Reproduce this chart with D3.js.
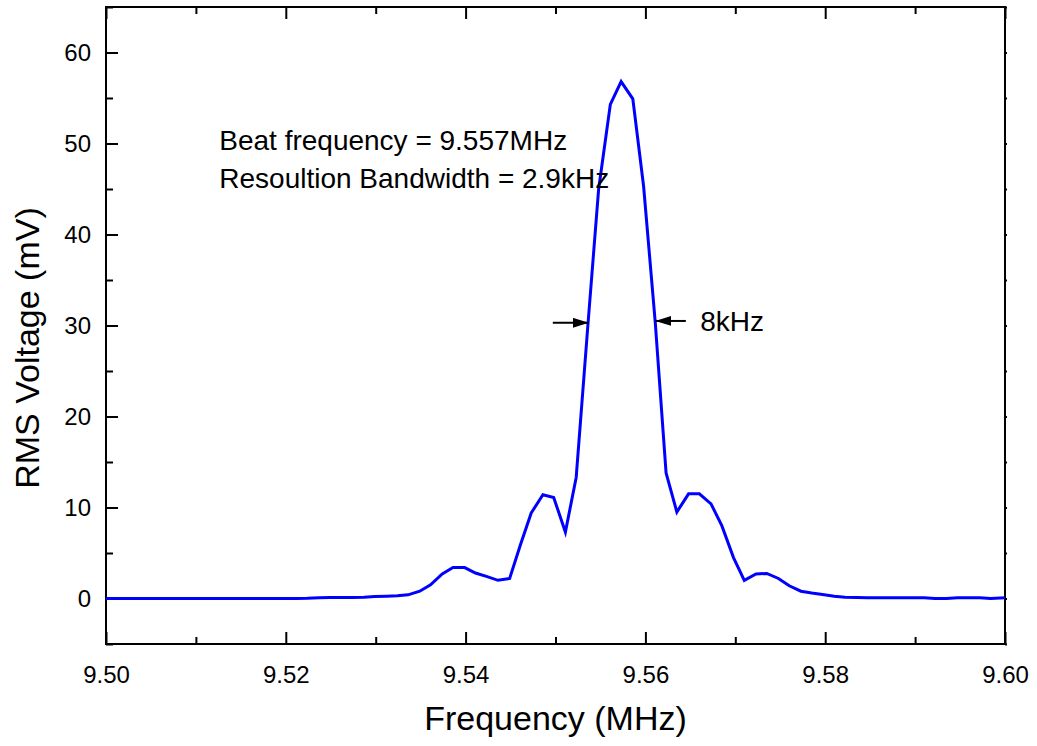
<!DOCTYPE html>
<html>
<head>
<meta charset="utf-8">
<script src="https://cdn.jsdelivr.net/npm/d3@7"></script>
<style>
  body { margin: 0; background: #fff; }
  svg { display: block; font-family: "Liberation Sans", Arial, sans-serif; }
</style>
</head>
<body>
<svg></svg>
<script>
// sample frequencies (MHz) and RMS voltage (mV)
const frequencies = [
  9.5000, 9.5012, 9.5025, 9.5037, 9.5050, 9.5062, 9.5075, 9.5087, 9.5100, 9.5112,
  9.5125, 9.5137, 9.5150, 9.5162, 9.5174, 9.5187, 9.5199, 9.5212, 9.5224, 9.5237,
  9.5249, 9.5262, 9.5274, 9.5287, 9.5299, 9.5312, 9.5324, 9.5336, 9.5349, 9.5361,
  9.5374, 9.5386, 9.5399, 9.5411, 9.5424, 9.5436, 9.5449, 9.5461, 9.5473, 9.5486,
  9.5498, 9.5511, 9.5523, 9.5536, 9.5548, 9.5561, 9.5573, 9.5586, 9.5598, 9.5611,
  9.5623, 9.5635, 9.5648, 9.5660, 9.5673, 9.5685, 9.5698, 9.5710, 9.5723, 9.5735,
  9.5748, 9.5760, 9.5773, 9.5785, 9.5797, 9.5810, 9.5822, 9.5835, 9.5847, 9.5860,
  9.5872, 9.5885, 9.5897, 9.5910, 9.5922, 9.5935, 9.5947, 9.5959, 9.5972, 9.5984,
  9.6000
]
const voltages = [
  0.00, 0.00, 0.00, 0.00, 0.00, 0.00, 0.00, 0.00, 0.00, 0.00,
  0.00, 0.00, 0.00, 0.00, 0.00, 0.00, 0.00, 0.00, 0.02, 0.08,
  0.10, 0.10, 0.12, 0.15, 0.22, 0.25, 0.30, 0.40, 0.80, 1.50,
  2.70, 3.40, 3.40, 2.80, 2.40, 2.00, 2.20, 5.90, 9.40, 11.40,
  11.10, 7.30, 13.30, 30.00, 45.00, 54.30, 56.80, 54.90, 45.30, 30.30,
  13.80, 9.50, 11.50, 11.50, 10.40, 8.00, 4.50, 2.00, 2.70, 2.75,
  2.20, 1.40, 0.80, 0.60, 0.45, 0.25, 0.15, 0.10, 0.08, 0.08,
  0.08, 0.08, 0.08, 0.08, 0.00, 0.00, 0.08, 0.08, 0.08, 0.00,
  0.08
]
const xMajorTicks = [9.50, 9.52, 9.54, 9.56, 9.58, 9.60]
const xMinorTicks = [9.51, 9.53, 9.55, 9.57, 9.59]
const yMajorTicks = [0, 10, 20, 30, 40, 50, 60]
const yMinorTicks = [-5, 5, 15, 25, 35, 45, 55, 65]
const notes = ["Beat frequency = 9.557MHz", "Resoultion Bandwidth = 2.9kHz"]

const width = 1037
const height = 746
const margin = { top: 7, right: 32, bottom: 102, left: 106 }
const innerW = width - margin.left - margin.right
const innerH = height - margin.top - margin.bottom

const svg = d3.select('svg')
    .attr('width', width)
    .attr('height', height)

const x = d3.scaleLinear().domain([9.50, 9.60]).range([margin.left, margin.left + innerW])
const y = d3.scaleLinear().domain([-5, 65]).range([margin.top + innerH, margin.top])

const tickFont = 24

// bottom axis
svg.append('g')
    .attr('transform', `translate(0,${y(-5)})`)
    .call(d3.axisBottom(x).tickValues(xMajorTicks).tickSize(-12).tickPadding(22).tickFormat(d3.format('.2f')))
    .call(g => g.selectAll('text').attr('font-size', tickFont).attr('font-family', 'Liberation Sans').attr('fill', '#000'))
svg.append('g')
    .attr('transform', `translate(0,${y(-5)})`)
    .call(d3.axisBottom(x).tickValues(xMinorTicks).tickSize(-7).tickFormat(''))

// top axis
svg.append('g')
    .attr('transform', `translate(0,${y(65)})`)
    .call(d3.axisTop(x).tickValues(xMajorTicks).tickSize(-12).tickFormat(''))
svg.append('g')
    .attr('transform', `translate(0,${y(65)})`)
    .call(d3.axisTop(x).tickValues(xMinorTicks).tickSize(-7).tickFormat(''))

// left axis
svg.append('g')
    .attr('transform', `translate(${x(9.50)},0)`)
    .call(d3.axisLeft(y).tickValues(yMajorTicks).tickSize(-12).tickPadding(15))
    .call(g => g.selectAll('text').attr('font-size', tickFont).attr('font-family', 'Liberation Sans').attr('fill', '#000'))
svg.append('g')
    .attr('transform', `translate(${x(9.50)},0)`)
    .call(d3.axisLeft(y).tickValues(yMinorTicks).tickSize(-7).tickFormat(''))

// right axis (tiny outward ticks)
svg.append('g')
    .attr('transform', `translate(${x(9.60)},0)`)
    .call(d3.axisRight(y).tickValues(yMajorTicks.concat(yMinorTicks)).tickSize(2).tickFormat(''))

svg.selectAll('.domain').remove()
svg.selectAll('.tick line').attr('stroke', '#000').attr('stroke-width', 2)

// frame
svg.append('rect')
    .attr('x', x(9.50))
    .attr('y', y(65))
    .attr('width', x(9.60) - x(9.50))
    .attr('height', y(-5) - y(65))
    .attr('fill', 'none')
    .attr('stroke', '#000')
    .attr('stroke-width', 2)

// spectrum line
const points = frequencies.map((f, i) => ({ f: f, v: voltages[i] }))
const line = d3.line()
    .x(d => x(d.f))
    .y(d => y(d.v))

svg.append('path')
    .datum(points)
    .attr('d', line)
    .attr('fill', 'none')
    .attr('stroke', '#0000ff')
    .attr('stroke-width', 3)
    .attr('stroke-linejoin', 'miter')

// annotations
svg.selectAll('.note')
    .data(notes)
    .enter()
    .append('text')
    .attr('class', 'note')
    .attr('x', x(9.5126))
    .attr('y', (d, i) => y([49.3, 45.1][i]))
    .attr('font-size', 28)
    .text(d => d)

const defs = svg.append('defs')
defs.append('marker')
    .attr('id', 'head')
    .attr('viewBox', '0 0 16 10')
    .attr('refX', 16)
    .attr('refY', 5)
    .attr('markerWidth', 16)
    .attr('markerHeight', 10)
    .attr('markerUnits', 'userSpaceOnUse')
    .attr('orient', 'auto')
    .append('path')
    .attr('d', 'M0,0 L16,5 L0,10 Z')
    .attr('fill', '#000')

svg.append('line')
    .attr('x1', x(9.5497)).attr('x2', x(9.5537))
    .attr('y1', y(30.3)).attr('y2', y(30.3))
    .attr('stroke', '#000').attr('stroke-width', 2)
    .attr('marker-end', 'url(#head)')
svg.append('line')
    .attr('x1', x(9.5645)).attr('x2', x(9.5611))
    .attr('y1', y(30.5)).attr('y2', y(30.5))
    .attr('stroke', '#000').attr('stroke-width', 2)
    .attr('marker-end', 'url(#head)')
svg.append('text')
    .attr('x', x(9.5661))
    .attr('y', y(30.5))
    .attr('dy', '0.35em')
    .attr('font-size', 28)
    .text('8kHz')

// axis titles
svg.append('text')
    .attr('x', (x(9.50) + x(9.60)) / 2)
    .attr('y', 730)
    .attr('text-anchor', 'middle')
    .attr('font-size', 34)
    .text('Frequency (MHz)')

svg.append('text')
    .attr('transform', `translate(39,${348}) rotate(-90)`)
    .attr('text-anchor', 'middle')
    .attr('font-size', 34)
    .text('RMS Voltage (mV)')
</script>
</body>
</html>
